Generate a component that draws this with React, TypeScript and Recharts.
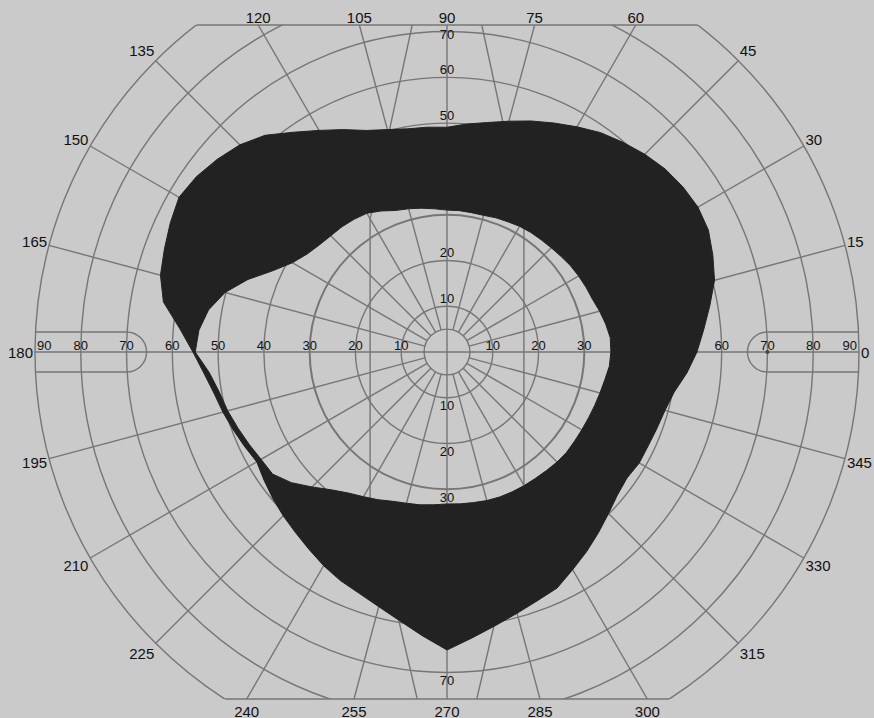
import React from "react";
import { RadarChart, Radar, PolarAngleAxis, PolarRadiusAxis, Customized } from "recharts";

// meridian (deg) and the two edges of the dark field, in degrees of eccentricity
const angles = [
  0, 5, 10, 15, 20, 25, 30, 35, 40, 45, 50, 55, 60, 65, 70, 75, 80, 85, 90, 95, 100, 105, 110, 115,
  120, 125, 130, 135, 140, 145, 150, 155, 160, 165, 170, 175, 180, 185, 190, 195, 200, 205, 210, 215,
  220, 225, 230, 235, 240, 245, 250, 255, 260, 265, 270, 275, 280, 285, 290, 295, 300, 305, 310, 315,
  320, 325, 330, 335, 340, 345, 350, 355, 360,
];
const outerEdge = [
  54.6, 56.3, 58.3, 60.5, 61.8, 63.0, 63.3, 62.9, 62.2, 61.1, 59.8, 58.5, 56.8, 55.2, 53.7, 52.2, 50.9, 50.0, 49.1, 49.3, 49.5, 50.3, 51.5, 53.6,
  55.9, 58.6, 61.8, 64.0, 65.5, 66.8, 67.6, 66.7, 65.7, 64.8, 62.9, 58.6, 55.5, 53.3, 51.7, 50.7, 49.7, 48.8, 48.0, 48.8,
  49.7, 50.6, 51.5, 52.6, 53.9, 55.1, 56.1, 57.6, 59.6, 62.2, 65.1, 62.7, 60.7, 59.1, 57.8, 56.9, 54.9, 53.2, 51.5, 49.9,
  48.6, 48.0, 48.5, 48.5, 48.8, 49.3, 50.4, 52.6, 54.6,
];
const innerEdge = [
  35.8, 35.8, 35.2, 34.5, 33.8, 33.5, 33.2, 32.9, 32.5, 32.2, 32.0, 31.9, 31.7, 31.4, 31.2, 30.9, 30.9, 31.0, 31.0, 31.4, 31.9, 32.4, 32.9, 34.0,
  35.0, 35.4, 35.7, 35.9, 36.4, 37.3, 39.0, 42.0, 46.3, 50.2, 52.9, 54.4, 55.0, 52.1, 50.5, 49.6, 48.6, 47.7, 46.9, 46.5,
  44.4, 41.7, 39.3, 37.6, 36.5, 35.6, 34.7, 34.2, 33.9, 33.5, 33.2, 33.3, 33.4, 33.6, 33.7, 33.7, 33.7, 33.7, 33.8, 34.0,
  34.1, 34.0, 34.0, 34.1, 34.3, 34.6, 35.0, 35.6, 35.8,
];

const ringDegrees = [5, 10, 20, 30, 40, 50, 60, 70, 80];
const spokeAngles = [15, 30, 45, 60, 75, 105, 120, 135, 150, 165, 195, 210, 225, 240, 255, 285, 300, 315, 330, 345];
const meridianLabels = [0, 15, 30, 45, 60, 75, 90, 105, 120, 135, 150, 165, 180, 195, 210, 225, 240, 255, 270, 285, 300, 315, 330, 345];
const leftLabels = [10, 20, 30, 40, 50, 60, 70, 80, 90];
const rightLabels = [10, 20, 30, 60, 70, 80, 90];
const upLabels = [10, 20, 50, 60, 70];
const downLabels = [10, 20, 30, 70];

const data = angles.map((angle, i) => ({ angle, field: [innerEdge[i], outerEdge[i]] }));

const W = 874;
const H = 718;
const CX = 447;
const CY = 352;
const R = 412;
const TOP = 25;
const BOTTOM = 699;
const MAX = 90;
const BG = "#cacaca";
const INK = "#222222";
const GRID = "#767676";
const FONT = '"Liberation Sans", Arial, Helvetica, sans-serif';

const rad = (v: number) => (v / MAX) * R;

function frameHit(deg: number) {
  const a = (deg * Math.PI) / 180;
  const c = Math.cos(a);
  const s = Math.sin(a);
  let t = R;
  let side = "circle";
  if (s > 1e-6 && (CY - TOP) / s < t) {
    t = (CY - TOP) / s;
    side = "top";
  }
  if (s < -1e-6 && (BOTTOM - CY) / -s < t) {
    t = (BOTTOM - CY) / -s;
    side = "bottom";
  }
  return { x: CX + t * c, y: CY - t * s, c, s, side };
}

function Grid() {
  const halfAt = (y: number) => Math.sqrt(R * R - (y - CY) * (y - CY));
  const r5 = rad(5);
  const r70 = rad(70);
  const ph = 20;
  const pEdge = halfAt(CY - ph);
  const bar = (sign: number) =>
    [
      [CX + sign * rad(7.6), TOP],
      [CX + sign * rad(16.8), CY - rad(29)],
      [CX + sign * rad(16.8), CY + rad(32)],
      [CX + sign * rad(6.5), BOTTOM],
    ]
      .map((p) => p.join(","))
      .join(" ");

  return (
    <g>
      <defs>
        <clipPath id="frame-clip">
          <rect x={0} y={TOP} width={W} height={BOTTOM - TOP} />
        </clipPath>
      </defs>
      <g clipPath="url(#frame-clip)" stroke={GRID} fill="none" strokeWidth={1.4}>
        {ringDegrees.map((v) => (
          <circle key={v} cx={CX} cy={CY} r={rad(v)} strokeWidth={v === 30 ? 2 : 1.4} />
        ))}
        <circle cx={CX} cy={CY} r={R} />
        {spokeAngles.map((a) => {
          const p = frameHit(a);
          return <line key={a} x1={CX + r5 * p.c} y1={CY - r5 * p.s} x2={p.x} y2={p.y} />;
        })}
        <line x1={CX - R} y1={CY} x2={CX + R} y2={CY} />
        <line x1={CX} y1={TOP} x2={CX} y2={BOTTOM} />
        <polyline points={bar(-1)} />
        <polyline points={bar(1)} />
        <path d={`M${CX - pEdge},${CY - ph} L${CX - r70},${CY - ph} A${ph},${ph} 0 0 1 ${CX - r70},${CY + ph} L${CX - pEdge},${CY + ph}`} />
        <path d={`M${CX + pEdge},${CY - ph} L${CX + r70},${CY - ph} A${ph},${ph} 0 0 0 ${CX + r70},${CY + ph} L${CX + pEdge},${CY + ph}`} />
      </g>
      <line x1={CX - halfAt(TOP)} y1={TOP} x2={CX + halfAt(TOP)} y2={TOP} stroke={GRID} strokeWidth={1.6} />
      <line x1={CX - halfAt(BOTTOM)} y1={BOTTOM} x2={CX + halfAt(BOTTOM)} y2={BOTTOM} stroke={GRID} strokeWidth={1.6} />
      <circle cx={CX + r70} cy={CY} r={2} fill="#444" />

      <g fontFamily={FONT} fontSize={13} fill="#111" textAnchor="middle" dominantBaseline="central">
        {leftLabels.map((v) => (
          <text key={`l${v}`} x={CX - rad(v === 90 ? 88 : v)} y={CY - 7}>{v}</text>
        ))}
        {rightLabels.map((v) => (
          <text key={`r${v}`} x={CX + rad(v === 90 ? 88 : v)} y={CY - 7}>{v}</text>
        ))}
        {upLabels.map((v) => (
          <text key={`u${v}`} x={CX} y={Math.max(CY - rad(v) - 8, TOP + 9)}>{v}</text>
        ))}
        {downLabels.map((v) => (
          <text key={`d${v}`} x={CX} y={CY + rad(v) + 8}>{v}</text>
        ))}
      </g>

      <g fontFamily={FONT} fontSize={15} fill="#111" dominantBaseline="central">
        {meridianLabels.map((a) => {
          const p = frameHit(a);
          if (p.side === "top")
            return <text key={a} x={p.x} y={TOP - 8} textAnchor="middle">{a}</text>;
          if (p.side === "bottom")
            return <text key={a} x={p.x} y={BOTTOM + 12} textAnchor="middle">{a}</text>;
          const anchor = p.c > 0.2 ? "start" : p.c < -0.2 ? "end" : "middle";
          return (
            <text key={a} x={p.x + p.c * 2} y={p.y - p.s * 14} textAnchor={anchor}>
              {a}
            </text>
          );
        })}
      </g>
    </g>
  );
}

export default function App() {
  return (
    <div style={{ position: "absolute", left: 0, top: 0, width: W, height: H, background: BG }}>
      <RadarChart
        width={W}
        height={H}
        data={data}
        cx={CX}
        cy={CY}
        outerRadius={R}
        startAngle={0}
        endAngle={360}
        margin={{ top: 0, right: 0, bottom: 0, left: 0 }}
      >
        <PolarAngleAxis dataKey="angle" type="number" domain={[0, 360]} tick={false} axisLine={false} tickLine={false} />
        <PolarRadiusAxis type="number" domain={[0, MAX]} tick={false} axisLine={false} tickLine={false} />
        <Customized component={Grid} />
        <Radar
          dataKey="field"
          stroke={INK}
          strokeWidth={1}
          fill={INK}
          fillOpacity={1}
          dot={false}
          isAnimationActive={false}
        />
      </RadarChart>
    </div>
  );
}
